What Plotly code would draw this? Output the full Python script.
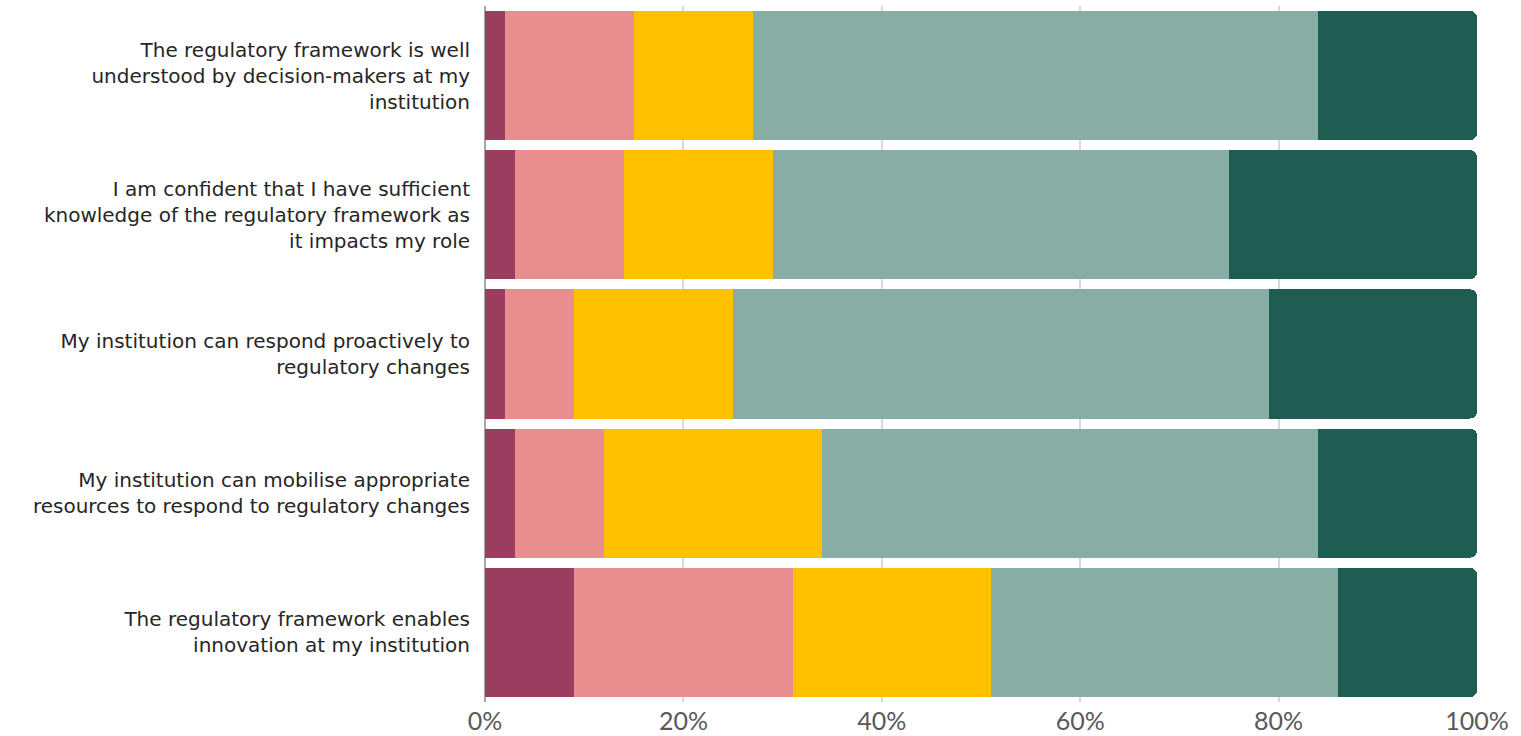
import plotly.graph_objects as go

categories = [
    "The regulatory framework is well<br>understood by decision-makers at my<br>institution",
    "I am confident that I have sufficient<br>knowledge of the regulatory framework as<br>it impacts my role",
    "My institution can respond proactively to<br>regulatory changes",
    "My institution can mobilise appropriate<br>resources to respond to regulatory changes",
    "The regulatory framework enables<br>innovation at my institution",
]

series_names = ["Strongly disagree", "Disagree", "Neutral", "Agree", "Strongly agree"]
strongly_disagree = [2, 3, 2, 3, 9]
disagree = [13, 11, 7, 9, 22]
neutral = [12, 15, 16, 22, 20]
agree = [57, 46, 54, 50, 35]
strongly_agree = [16, 25, 21, 16, 14]
series_values = [strongly_disagree, disagree, neutral, agree, strongly_agree]
colors = ["#9B3D5F", "#E98E8E", "#FFC000", "#87ADA5", "#1F5C52"]

tick_vals = [0, 20, 40, 60, 80, 100]
tick_text = ["0%", "20%", "40%", "60%", "80%", "100%"]

fig = go.Figure()
for name, vals, col in zip(series_names, series_values, colors):
    fig.add_trace(go.Bar(
        y=categories, x=vals, name=name, orientation="h",
        marker=dict(color=col, line=dict(width=0)),
        hovertemplate="%{x}%<extra>" + name + "</extra>",
    ))

fig.update_layout(
    barmode="stack",
    bargap=0.072,
    barcornerradius=7,
    width=1521, height=736,
    margin=dict(l=485, r=44, t=6, b=34, pad=0),
    paper_bgcolor="white",
    plot_bgcolor="white",
    showlegend=False,
    font=dict(family="DejaVu Sans", color="#262626"),
)
fig.update_xaxes(
    range=[0, 100],
    tickvals=tick_vals,
    ticktext=tick_text,
    tickfont=dict(family="Lato", size=25, color="#595959"),
    ticklabelstandoff=2,
    showgrid=True, gridcolor="#D9D9D9", gridwidth=1.5,
    zeroline=True, zerolinecolor="#A6A6A6", zerolinewidth=2,
    showline=False, ticks="", automargin=False,
    fixedrange=True,
)
fig.update_yaxes(
    autorange="reversed",
    tickfont=dict(family="DejaVu Sans", size=20, color="#262626"),
    showgrid=False, zeroline=False, showline=False, ticks="",
    ticklabelstandoff=14,
    automargin=False,
    fixedrange=True,
)

fig.write_html("out.html")
